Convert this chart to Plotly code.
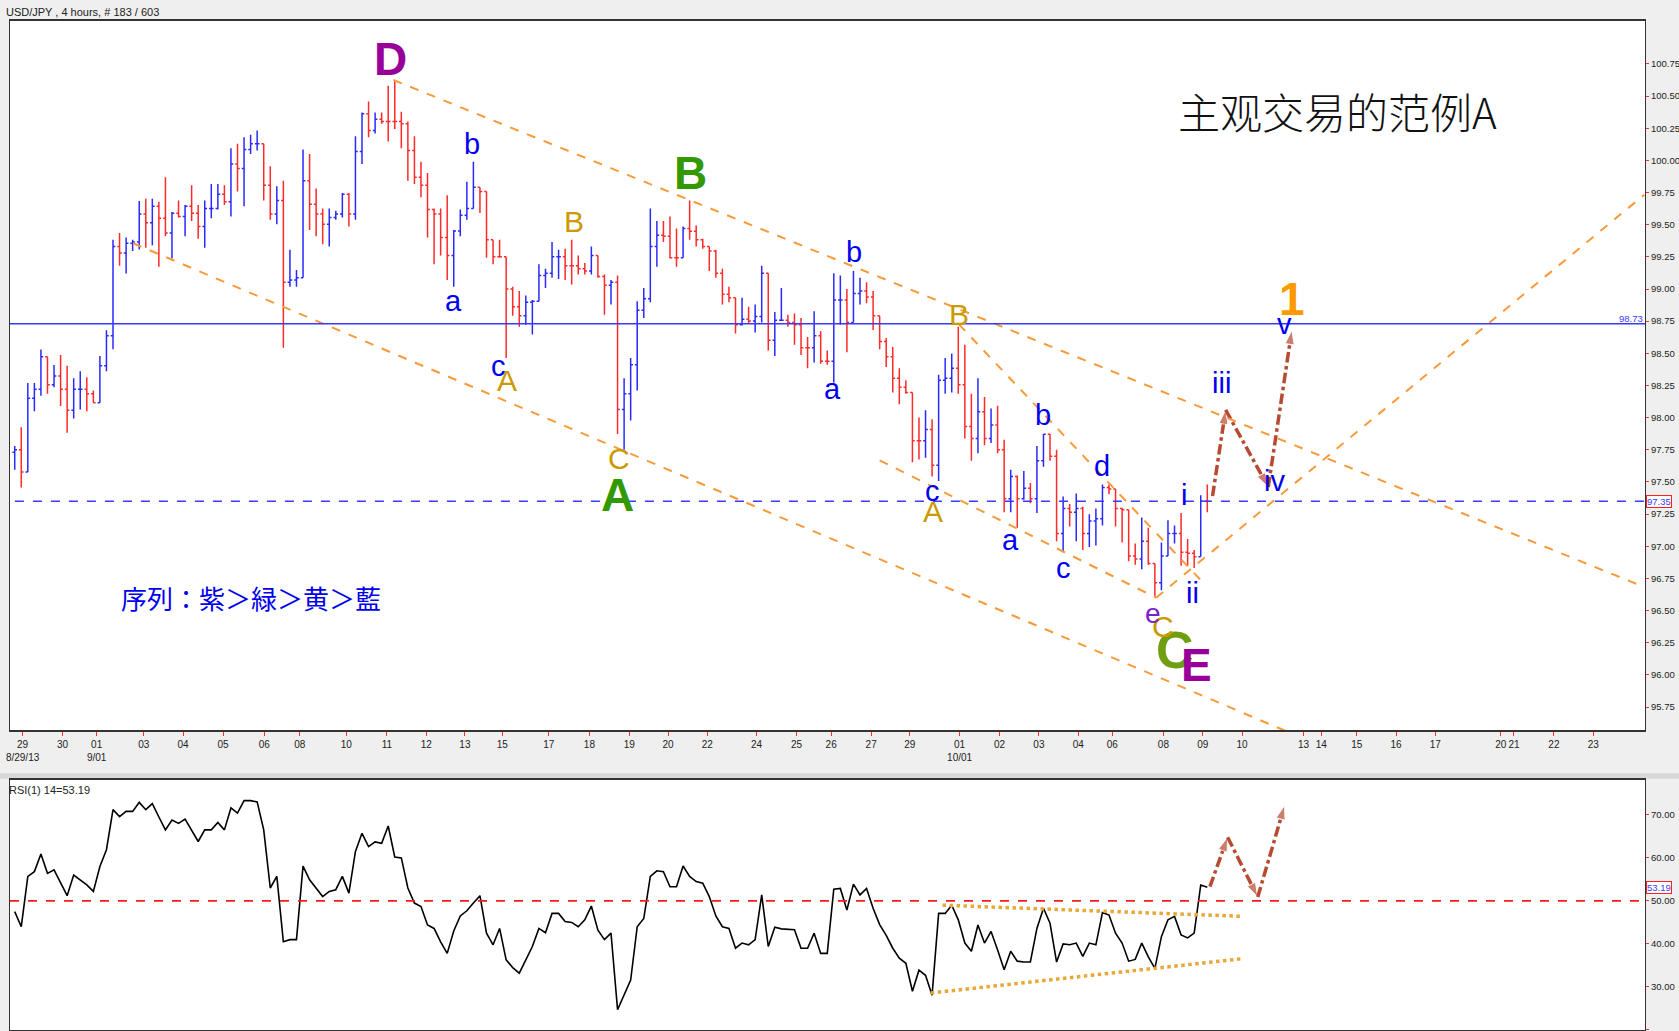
import plotly.graph_objects as go

# ---------------- data ----------------
header_text = "USD/JPY , 4 hours, # 183 / 603"
rsi_header = "RSI(1) 14=53.19"
chart_title = "主观交易的范例A"
sequence_note = "序列：紫＞緑＞黄＞藍"

first_open = 97.73
closes = [
    97.75, 97.578, 98.15, 98.22, 98.473, 98.255, 98.324, 98.22, 98.057, 98.22,
    98.22, 98.185, 98.116, 98.404, 98.636, 99.33, 99.28, 99.355, 99.365, 99.584,
    99.515, 99.643, 99.55, 99.435, 99.59, 99.563, 99.643, 99.59, 99.487, 99.626,
    99.626, 99.737, 99.678, 99.973, 99.938, 100.084, 100.13, 100.13, 99.806, 99.584,
    99.688, 99.053, 99.07, 99.088, 99.841, 99.66, 99.584, 99.504, 99.556, 99.584,
    99.737, 99.584, 100.07, 100.362, 100.233, 100.32, 100.303, 100.303, 100.303, 100.285,
    100.077, 99.869, 99.806, 99.619, 99.584, 99.4, 99.261, 99.452, 99.574, 99.626,
    99.792, 99.758, 99.383, 99.251, 99.251, 99.001, 98.862, 98.793, 98.897, 98.904,
    99.105, 99.123, 99.251, 99.251, 99.181, 99.181, 99.157, 99.14, 99.261, 99.098,
    99.029, 99.053, 98.064, 98.185, 98.411, 98.834, 98.925, 99.331, 99.418, 99.411,
    99.244, 99.244, 99.47, 99.45, 99.383, 99.331, 99.296, 99.123, 98.96, 98.932,
    98.723, 98.765, 98.751, 98.786, 99.123, 98.602, 98.758, 98.758, 98.74, 98.723,
    98.543, 98.543, 98.636, 98.438, 98.438, 98.914, 98.914, 98.74, 98.966, 98.984,
    98.938, 98.793, 98.591, 98.473, 98.307, 98.237, 98.196, 97.821, 97.821, 97.907,
    97.63, 98.29, 98.307, 98.383, 98.255, 97.932, 97.838, 98.046, 97.838, 97.942,
    97.751, 97.369, 97.543, 97.369, 97.45, 97.369, 97.664, 97.87, 97.699, 97.099,
    97.293, 97.265, 97.293, 97.099, 97.196, 97.213, 97.456, 97.446, 97.293, 97.283,
    96.925, 96.9, 97.039, 96.866, 96.717, 96.925, 97.099, 97.099, 96.953, 96.946,
    96.918, 97.352, 97.35,
]
highs = [
    97.78, 97.925, 98.27, 98.27, 98.53, 98.47, 98.41, 98.487, 98.404, 98.307,
    98.36, 98.314, 98.21, 98.48, 98.68, 99.383, 99.435, 99.40, 99.383, 99.685,
    99.702, 99.702, 99.678, 99.869, 99.598, 99.688, 99.654, 99.806, 99.654, 99.688,
    99.817, 99.817, 99.806, 100.094, 100.13, 100.18, 100.2, 100.233, 100.13, 99.955,
    99.8, 99.841, 99.306, 99.147, 100.084, 100.05, 99.782, 99.626, 99.626, 99.608,
    99.747, 99.747, 100.188, 100.372, 100.459, 100.372, 100.372, 100.58, 100.615, 100.379,
    100.303, 100.188, 99.99, 99.903, 99.626, 99.626, 99.73, 99.459, 99.619, 99.834,
    99.99, 99.792, 99.758, 99.383, 99.383, 99.098, 99.018, 98.984, 98.949, 98.914,
    99.192, 99.157, 99.365, 99.306, 99.313, 99.383, 99.261, 99.202, 99.331, 99.261,
    99.112, 99.07, 99.105, 98.307, 98.463, 98.904, 99.008, 99.626, 99.529, 99.529,
    99.563, 99.47, 99.487, 99.688, 99.494, 99.39, 99.306, 99.306, 99.157, 99.018,
    98.932, 98.932, 98.862, 98.879, 99.181, 99.123, 98.821, 99.008, 98.8, 98.81,
    98.775, 98.626, 98.827, 98.671, 98.522, 99.123, 99.105, 99.001, 99.14, 99.088,
    99.053, 98.984, 98.793, 98.619, 98.55, 98.383, 98.29, 98.196, 98.001, 98.057,
    97.987, 98.334, 98.463, 98.498, 98.706, 98.567, 98.185, 98.307, 98.161, 98.071,
    98.092, 97.828, 97.595, 97.55, 97.585, 97.491, 97.779, 97.873, 97.873, 97.751,
    97.387, 97.328, 97.411, 97.307, 97.248, 97.293, 97.48, 97.48, 97.328, 97.3,
    97.189, 97.022, 97.224, 97.144, 96.866, 97.029, 97.203, 97.161, 97.258, 97.057,
    96.97, 97.397, 97.48,
]
lows = [
    97.595, 97.456, 97.578, 98.05, 98.17, 98.185, 98.237, 98.09, 97.883, 97.994,
    98.064, 98.05, 98.116, 98.116, 98.36, 98.532, 99.18, 99.12, 99.296, 99.307,
    99.32, 99.34, 99.174, 99.41, 99.237, 99.556, 99.41, 99.528, 99.39, 99.32,
    99.55, 99.618, 99.654, 99.563, 99.758, 99.643, 100.05, 100.077, 99.688, 99.539,
    99.504, 98.543, 99.018, 99.018, 99.105, 99.459, 99.41, 99.348, 99.331, 99.539,
    99.556, 99.487, 99.539, 99.973, 100.181, 100.209, 100.285, 100.147, 100.244, 100.094,
    99.841, 99.817, 99.713, 99.4, 99.192, 99.261, 99.07, 99.018, 99.41, 99.539,
    99.626, 99.591, 99.244, 99.192, 99.244, 98.463, 98.793, 98.706, 98.723, 98.647,
    98.949, 99.008, 99.088, 99.077, 99.07, 99.036, 99.112, 99.112, 99.112, 99.088,
    98.8, 98.879, 97.873, 97.751, 97.977, 98.21, 98.775, 98.897, 99.174, 99.365,
    99.237, 99.174, 99.244, 99.383, 99.331, 99.313, 99.14, 99.088, 98.879, 98.897,
    98.654, 98.716, 98.73, 98.661, 98.74, 98.522, 98.48, 98.751, 98.706, 98.567,
    98.487, 98.383, 98.428, 98.418, 98.411, 98.272, 98.723, 98.508, 98.74, 98.879,
    98.89, 98.682, 98.532, 98.394, 98.195, 98.105, 98.185, 97.654, 97.675, 97.689,
    97.543, 97.508, 98.185, 98.196, 98.185, 97.838, 97.664, 97.723, 97.786, 97.803,
    97.723, 97.265, 97.265, 97.144, 97.362, 97.334, 97.258, 97.619, 97.664, 97.039,
    96.953, 97.154, 97.039, 96.97, 96.994, 97.005, 97.161, 97.404, 97.154, 97.029,
    96.883, 96.856, 96.821, 96.856, 96.606, 96.658, 96.925, 97.022, 96.849, 96.849,
    96.831, 96.918, 97.265,
]
rsi = [
    47.5, 44.0, 55.7, 56.8, 60.9, 56.4, 57.2, 54.0, 51.2, 56.0,
    54.8, 53.7, 52.2, 58.0, 61.9, 71.2, 69.6, 70.8, 70.8, 72.9,
    71.2, 72.6, 69.5, 66.5, 68.8, 68.0, 69.0, 66.5, 63.8, 66.5,
    66.5, 68.2, 66.5, 71.6, 70.4, 73.3, 73.3, 73.0, 66.5, 53.0,
    55.7, 40.5, 41.0, 41.0, 58.1, 54.9, 52.9, 51.0, 52.2, 52.6,
    55.7, 51.8, 61.5, 65.7, 62.6, 63.7, 63.4, 67.4, 60.2, 60.0,
    53.0, 49.5, 48.7, 44.4, 43.6, 40.5, 37.8, 43.0, 46.5, 47.7,
    49.5, 51.2, 42.5, 39.8, 43.6, 36.3, 34.5, 33.2, 36.3, 39.4,
    43.6, 42.6, 47.1, 47.1, 45.2, 45.0, 44.0, 45.6, 48.8, 43.2,
    41.0, 42.5, 24.7, 28.0, 31.6, 44.0, 45.9, 55.7, 57.0, 56.8,
    53.3, 53.3, 58.1, 55.7, 54.5, 54.1, 51.0, 46.5, 44.0, 43.6,
    39.0, 40.2, 39.8, 41.0, 51.4, 39.4, 43.9, 43.5, 43.4, 43.3,
    39.0, 39.0, 42.5, 37.8, 37.8, 52.7, 52.9, 47.9, 53.9, 51.4,
    52.9, 48.3, 44.5, 42.0, 39.0, 36.7, 35.5, 29.0, 33.9, 32.7,
    28.1, 47.1, 47.1, 49.0, 45.6, 40.2, 38.3, 44.4, 40.2, 42.9,
    38.6, 34.0, 38.3, 36.0, 35.8, 35.8, 43.6, 48.3, 44.8, 35.8,
    40.0, 39.8, 40.2, 37.1, 40.2, 39.8, 47.3, 46.7, 42.5, 40.2,
    36.0, 36.4, 40.2, 37.0, 34.3, 41.7, 45.6, 46.4, 42.1, 41.4,
    42.5, 53.7, 53.19,
]
last_price = 97.35
resistance_price = 98.73
rsi_last = 53.19

# x ticks (bar positions of the day labels)
tick_pos = [1.2, 7.3, 12.5, 19.7, 25.7, 31.8, 38.1, 43.5, 50.6, 56.8, 62.8, 68.7,
            74.4, 81.5, 87.7, 93.8, 99.7, 105.7, 113.2, 119.3, 124.6, 130.7, 136.6,
            144.2, 150.3, 156.3, 162.3, 167.5, 175.3, 181.3, 187.3, 196.7, 199.4,
            204.8, 210.8, 216.8, 226.8, 228.8, 234.9, 240.9]
tick_text = ["29<br>8/29/13", "30", "01<br>9/01", "03", "04", "05", "06", "08", "10",
             "11", "12", "13", "15", "17", "18", "19", "20", "22", "24", "25", "26",
             "27", "29", "01<br>10/01", "02", "03", "04", "06", "08", "09", "10",
             "13", "14", "15", "16", "17", "20", "21", "22", "23"]
price_ticks = [95.75, 96.0, 96.25, 96.5, 96.75, 97.0, 97.25, 97.5, 97.75, 98.0, 98.25,
               98.5, 98.75, 99.0, 99.25, 99.5, 99.75, 100.0, 100.25, 100.5, 100.75]
rsi_ticks = [20, 30, 40, 50, 60, 70]

# projected path (bar, price) and RSI projection (bar, value)
proj_bar = [182.8, 184.8, 191.3, 194.9]
proj_price = [97.39, 98.06, 97.46, 98.68]
rsi_proj_bar = [182.4, 185.1, 189.7, 193.8]
rsi_proj_val = [53.3, 64.8, 50.9, 72.2]

# ---------------- figure ----------------
bars = list(range(len(closes)))
opens = [first_open] + closes[:-1]
hi = [max(h, o, c) for h, o, c in zip(highs, opens, closes)]
lo = [min(l, o, c) for l, o, c in zip(lows, opens, closes)]

fig = go.Figure()
fig.add_trace(go.Ohlc(
    x=bars, open=opens, high=hi, low=lo, close=closes,
    increasing=dict(line=dict(color="#2a2aff", width=1.5)),
    decreasing=dict(line=dict(color="#ff2a2a", width=1.5)),
    tickwidth=0.35, xaxis="x", yaxis="y", hoverinfo="skip"))

fig.add_trace(go.Scatter(x=list(range(len(rsi))), y=rsi, mode="lines",
                         line=dict(color="black", width=1.6),
                         xaxis="x2", yaxis="y2", hoverinfo="skip"))

ARROW = "#b84a32"
def add_arrows(xs, ys, xa, ya):
    for i in range(len(xs) - 1):
        fig.add_trace(go.Scatter(
            x=[xs[i], xs[i + 1]], y=[ys[i], ys[i + 1]], mode="lines+markers",
            line=dict(color=ARROW, width=3.5, dash="dashdot"),
            marker=dict(symbol=["circle", "arrow"], size=[0, 15], color=ARROW,
                        angleref="previous"),
            xaxis=xa, yaxis=ya, hoverinfo="skip"))

add_arrows(proj_bar, proj_price, "x", "y")
add_arrows(rsi_proj_bar, rsi_proj_val, "x2", "y2")

ORANGE = "#f99a3a"
def seg(x0, y0, x1, y1, xr="x", yr="y", color=ORANGE, width=2, dash="dash"):
    fig.add_shape(type="line", x0=x0, y0=y0, x1=x1, y1=y1, xref=xr, yref=yr,
                  line=dict(color=color, width=width, dash=dash))

# channel and wedge lines
seg(57.8, 100.625, 248.7, 96.683)
seg(18.06, 99.356, 194.6, 95.55)
seg(144.1, 98.725, 180.9, 96.742)
seg(132.0, 97.667, 174.2, 96.60)
seg(174.2, 96.60, 248.7, 99.733)
# horizontal levels
fig.add_shape(type="line", xref="x domain", yref="y", x0=0, x1=1,
              y0=resistance_price, y1=resistance_price,
              line=dict(color="#3a3aff", width=1.3))
fig.add_shape(type="line", xref="x domain", yref="y", x0=0.003, x1=1,
              y0=last_price, y1=last_price,
              line=dict(color="#3a3aff", width=1.3, dash="dash"))
fig.add_shape(type="line", xref="x2 domain", yref="y2", x0=0, x1=1,
              y0=50, y1=50, line=dict(color="#ff1a1a", width=1.6, dash="dash"))
# RSI triangle
seg(141.6, 49.0, 187.5, 46.4, "x2", "y2", "#e8a838", 3.5, "dot")
seg(139.8, 28.6, 187.5, 36.6, "x2", "y2", "#e8a838", 3.5, "dot")
# splitter strip
fig.add_shape(type="rect", xref="paper", yref="paper", x0=-0.01, x1=1.03,
              y0=0.249, y1=0.2545, fillcolor="#d9d9d9", line=dict(width=0),
              layer="below")

ann = []
def lab(t, x, y, color, size, bold=False, family="Liberation Sans, Arial", weight=None):
    f = dict(color=color, size=size, family=family)
    if weight is not None:
        f["weight"] = weight
    ann.append(dict(text=(f"<b>{t}</b>" if bold else t), x=x, y=y, xref="x", yref="y",
                    showarrow=False, font=f, xanchor="center", yanchor="middle"))

BIG = 46
PURPLE = "#990099"
GREEN = "#339900"
GOLD = "#cc9900"
BLUE = "#0000ee"
lab("D", 57.4, 100.79, PURPLE, BIG, True)
lab("B", 103.1, 99.90, GREEN, BIG, True)
lab("A", 92.0, 97.40, GREEN, BIG, True)
lab("C", 177.1, 96.19, "#6f9e12", 52, True)
lab("E", 180.4, 96.08, PURPLE, BIG, True)
lab("1", 194.9, 98.92, "#ff9900", BIG, True)
for t, x, y in [("A", 75.2, 98.29), ("B", 85.3, 99.525), ("C", 92.2, 97.683),
                ("B", 144.1, 98.80), ("A", 140.2, 97.267), ("C", 175.3, 96.375)]:
    lab(t, x, y, GOLD, 30)
for t, x, y in [("b", 69.8, 100.125), ("a", 67.0, 98.91), ("c", 73.9, 98.40),
                ("b", 128.1, 99.29), ("a", 124.8, 98.22), ("c", 140.0, 97.43),
                ("b", 157.0, 98.02), ("a", 152.0, 97.05), ("c", 160.0, 96.83),
                ("d", 166.0, 97.625), ("i", 178.4, 97.40), ("ii", 179.7, 96.64),
                ("iii", 184.2, 98.27), ("iv", 192.2, 97.51), ("v", 193.8, 98.73)]:
    lab(t, x, y, BLUE, 29)
lab("e", 173.7, 96.475, "#7722cc", 28)
lab(chart_title, 201.8, 100.39, "#111111", 42, False, "Noto Sans CJK SC", 300)
lab(sequence_note, 36.1, 96.60, "#0000ee", 26, False, "Noto Sans CJK JP")

# header texts
ann.append(dict(text=header_text, xref="paper", yref="paper", x=-0.0035, y=1.0085,
                xanchor="left", yanchor="middle", showarrow=False,
                font=dict(size=11, color="#222", family="Liberation Sans, Arial")))
ann.append(dict(text=rsi_header, xref="paper", yref="paper", x=-0.002, y=0.238,
                xanchor="left", yanchor="middle", showarrow=False,
                font=dict(size=11, color="#222", family="Liberation Sans, Arial")))
# price labels
small = dict(size=9.5, color="#3a3aff", family="Liberation Sans, Arial")
ann.append(dict(text=f"{resistance_price:.2f}", xref="x domain", yref="y", x=1, y=resistance_price,
                xanchor="right", yanchor="bottom", showarrow=False, yshift=-2, font=small))
ann.append(dict(text=f"{last_price:.2f}", xref="x domain", yref="y", x=1.0005, y=last_price,
                xanchor="left", yanchor="middle", showarrow=False, bgcolor="white",
                bordercolor="#ff2020", borderwidth=1, borderpad=0, font=small))
ann.append(dict(text=f"{rsi_last:.2f}", xref="x2 domain", yref="y2", x=1.0005, y=rsi_last,
                xanchor="left", yanchor="middle", showarrow=False, bgcolor="white",
                bordercolor="#ff2020", borderwidth=1, borderpad=0, font=small))

axis_font = dict(size=10, color="#222", family="Liberation Sans, Arial")
yaxis_font = dict(size=9.5, color="#222", family="Liberation Sans, Arial")
xrange = [-0.72, 248.8]
fig.update_layout(
    width=1679, height=1031, margin=dict(l=10, r=34, t=21, b=1, autoexpand=False),
    paper_bgcolor="#efefef", plot_bgcolor="white", showlegend=False,
    annotations=ann,
    xaxis=dict(domain=[0, 1], anchor="y", range=xrange, tickvals=tick_pos,
               ticktext=tick_text, tickangle=0, ticks="outside", ticklen=4,
               tickcolor="#ff3030", showline=True, linecolor="#333", linewidth=1.5,
               mirror=True, showgrid=False, zeroline=False, tickfont=axis_font,
               automargin=False, rangeslider=dict(visible=False), fixedrange=True),
    yaxis=dict(domain=[0.2973, 1], anchor="x", side="right", range=[95.571, 101.084],
               tickvals=price_ticks, tickformat=".2f", ticks="outside", ticklen=3,
               ticklabelstandoff=0, automargin=False,
               tickcolor="#ff3030", showline=True, linecolor="#333", linewidth=1.2,
               mirror=True, showgrid=False, zeroline=False, tickfont=yaxis_font),
    xaxis2=dict(domain=[0, 1], anchor="y2", range=xrange, matches="x",
                showticklabels=False, ticks="", showline=True, linecolor="#333",
                automargin=False,
                linewidth=1.5, mirror=True, showgrid=False, zeroline=False),
    yaxis2=dict(domain=[0, 0.2478], anchor="x2", side="right", range=[20, 78.1],
                tickvals=rsi_ticks, tickformat=".2f", ticks="outside", ticklen=3,
                ticklabelstandoff=0, automargin=False,
                tickcolor="#ff3030", showline=True, linecolor="#333", linewidth=1.2,
                mirror=True, showgrid=False, zeroline=False, tickfont=yaxis_font),
)

fig.write_html(
    "out.html",
    config={"displayModeBar": False},
    post_script="document.body.style.margin='0';document.body.style.overflow='hidden';"
                "document.body.style.background='#efefef';",
)
